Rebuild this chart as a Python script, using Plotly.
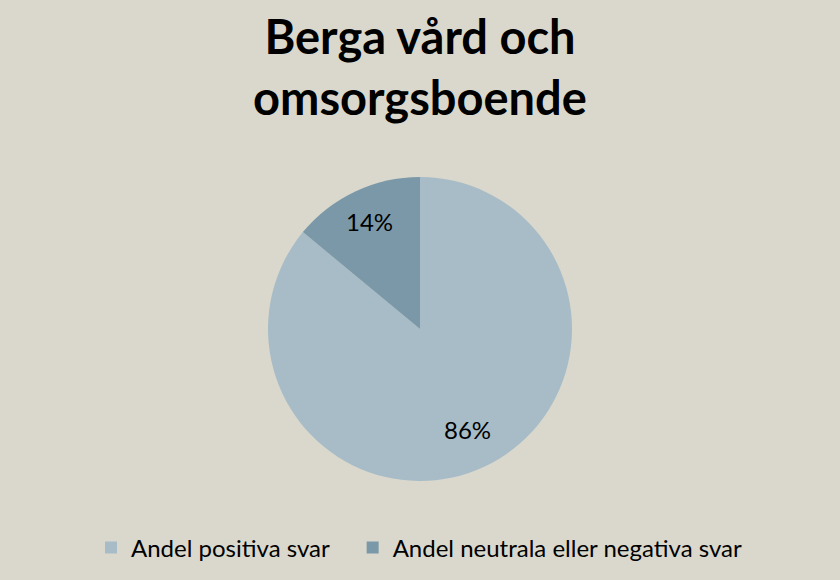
import math
import plotly.graph_objects as go

labels = ["Andel positiva svar", "Andel neutrala eller negativa svar"]
values = [86, 14]
colors = ["#A7BCC7", "#7B98A9"]
title_text = "Berga vård och<br>omsorgsboende"

W, H = 840, 580
# pie geometry (pixels)
cx, cy, R = 420, 329, 152
dom_x = [(cx - R) / W, (cx + R) / W]
dom_y = [1 - (cy + R) / H, 1 - (cy - R) / H]

# legend entries: extra non-breaking space after the first entry widens the gap
legend_labels = [labels[0] + "\u00a0" * 3, labels[1]]

fig = go.Figure(go.Pie(
    labels=legend_labels,
    values=values,
    sort=False,
    direction="clockwise",
    rotation=0,
    marker=dict(colors=colors, line=dict(width=0)),
    textinfo="none",
    domain=dict(x=dom_x, y=dom_y),
    hoverinfo="label+percent",
))

# data labels placed on each slice's bisector (computed from the values)
total = sum(values)
cum = 0
label_r = [0.73, 0.78]
for i, v in enumerate(values):
    mid = (cum + v / 2) / total * 2 * math.pi  # clockwise from 12 o'clock
    cum += v
    r = label_r[i] * R
    px = cx + r * math.sin(mid)
    py = cy - r * math.cos(mid)
    fig.add_annotation(x=px / W, y=1 - py / H, xref="paper", yref="paper",
                       text=f"{round(v / total * 100)}%", showarrow=False,
                       xanchor="center", yanchor="middle",
                       font=dict(family="Lato", size=24, color="#000000"))

fig.update_layout(
    width=W, height=H,
    paper_bgcolor="#DAD8CC",
    plot_bgcolor="#DAD8CC",
    margin=dict(l=0, r=0, t=0, b=0),
    title=dict(text="<b>" + title_text + "</b>", x=0.5, xanchor="center",
               y=1 - 54 / H, yanchor="middle",
               font=dict(family="Lato", size=47, color="#000000")),
    legend=dict(orientation="h", x=91 / W, xanchor="left", y=1 - 548 / H, yanchor="middle",
                font=dict(family="Lato", size=24, color="#000000"),
                bgcolor="rgba(0,0,0,0)"),
    showlegend=True,
)

fig.write_html("out.html", config={"displayModeBar": False},
               post_script="document.body.style.margin='0';")
